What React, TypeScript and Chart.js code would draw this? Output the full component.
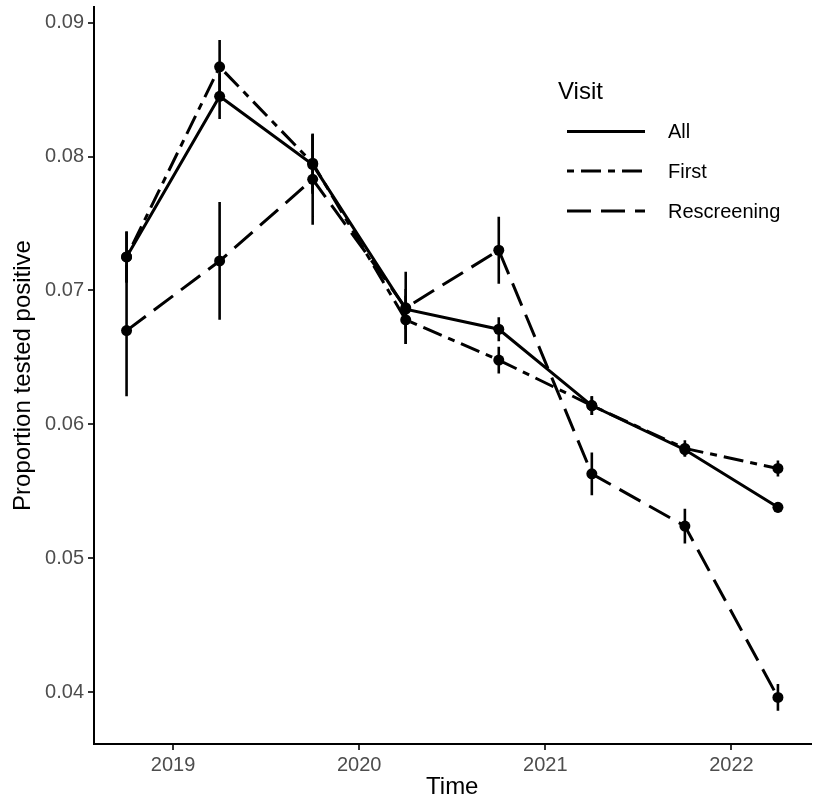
import React, { useEffect, useRef } from "react";
import { Chart, registerables } from "chart.js";

Chart.register(...registerables);

// ---- Data ----
const timePoints = [2018.75, 2019.25, 2019.75, 2020.25, 2020.75, 2021.25, 2021.75, 2022.25];

const allValues = [0.0725, 0.0845, 0.0794, 0.0686, 0.0671, 0.0614, 0.0581, 0.0538];
const allErrors = [0.0019, 0.0017, 0.0022, 0.0015, 0.0009, 0.0007, 0.0005, 0.0004];

const firstValues = [0.0725, 0.0867, 0.0795, 0.0678, 0.0648, 0.0614, 0.0582, 0.0567];
const firstErrors = [0.0019, 0.002, 0.0022, 0.0018, 0.001, 0.0007, 0.0006, 0.0006];

const rescreeningValues = [0.067, 0.0722, 0.0783, 0.0687, 0.073, 0.0563, 0.0524, 0.0396];
const rescreeningErrors = [0.0049, 0.0044, 0.0034, 0.0027, 0.0025, 0.0016, 0.0013, 0.001];

const seriesNames = ["All", "First", "Rescreening"];
const xTickValues = [2019, 2020, 2021, 2022];
const yTickValues = [0.04, 0.05, 0.06, 0.07, 0.08, 0.09];

const legendTitle = "Visit";
const xTitle = "Time";
const yTitle = "Proportion tested positive";

// ---- Styling ----
const FONT = "'Liberation Sans', Arial, Helvetica, sans-serif";
const dashes: number[][] = [[], [7, 7, 20, 7], [24, 10]];

function pointsOf(values: number[]) {
  return timePoints.map((t, i) => ({ x: t, y: values[i] }));
}

function errorBarsOf(values: number[], errors: number[]) {
  const out: { x: number; y: number | null }[] = [];
  timePoints.forEach((t, i) => {
    out.push({ x: t, y: values[i] - errors[i] });
    out.push({ x: t, y: values[i] + errors[i] });
    out.push({ x: t, y: null });
  });
  return out;
}

const legendPlugin = {
  id: "visitLegend",
  afterDraw(chart: any) {
    const ctx = chart.ctx as CanvasRenderingContext2D;
    ctx.save();
    ctx.fillStyle = "#000";
    ctx.font = `24px ${FONT}`;
    ctx.textAlign = "left";
    ctx.textBaseline = "alphabetic";
    ctx.fillText(legendTitle, 558, 99);
    const rowY = [131.5, 171, 211];
    seriesNames.forEach((name, i) => {
      const y = rowY[i];
      ctx.beginPath();
      ctx.setLineDash(dashes[i]);
      ctx.lineWidth = 3;
      ctx.lineCap = "butt";
      ctx.strokeStyle = "#000";
      ctx.moveTo(567, y);
      ctx.lineTo(645, y);
      ctx.stroke();
      ctx.setLineDash([]);
      ctx.font = `20px ${FONT}`;
      ctx.textBaseline = "middle";
      ctx.fillStyle = "#000";
      ctx.fillText(name, 668, y + 1);
    });
    ctx.restore();
  },
};

export default function App() {
  const canvasRef = useRef<HTMLCanvasElement | null>(null);

  useEffect(() => {
    const canvas = canvasRef.current;
    if (!canvas) return;
    Chart.defaults.font.family = FONT;

    const seriesValues = [allValues, firstValues, rescreeningValues];
    const seriesErrors = [allErrors, firstErrors, rescreeningErrors];

    const lineSets = seriesNames.map((name, i) => ({
      label: name,
      data: pointsOf(seriesValues[i]),
      borderColor: "#000",
      backgroundColor: "#000",
      borderWidth: 3,
      borderDash: dashes[i],
      borderCapStyle: "butt" as const,
      pointRadius: 5.5,
      pointBorderWidth: 0,
      pointBackgroundColor: "#000",
      pointHoverRadius: 5.5,
      tension: 0,
      fill: false,
    }));

    const errorSets = seriesNames.map((name, i) => ({
      label: name + " error",
      data: errorBarsOf(seriesValues[i], seriesErrors[i]),
      borderColor: "#000",
      borderWidth: 2.6,
      pointRadius: 0,
      pointHoverRadius: 0,
      spanGaps: false,
      tension: 0,
      fill: false,
    }));

    const chart = new Chart(canvas, {
      type: "line",
      data: { datasets: [...lineSets, ...errorSets] as any },
      options: {
        responsive: false,
        animation: false,
        devicePixelRatio: 1,
        events: [],
        layout: { padding: { top: 7, right: 3, left: 0, bottom: 0 } },
        plugins: {
          legend: { display: false },
          tooltip: { enabled: false },
        },
        scales: {
          x: {
            type: "linear",
            min: 2018.575,
            max: 2022.425,
            afterBuildTicks: (scale: any) => {
              scale.ticks = xTickValues.map((v) => ({ value: v }));
            },
            afterFit: (scale: any) => {
              scale.height = 59;
              scale.paddingLeft = 0;
              scale.paddingRight = 0;
            },
            grid: {
              drawOnChartArea: false,
              drawTicks: true,
              tickLength: 6,
              lineWidth: 2,
              color: "#333",
            },
            border: { display: true, color: "#000", width: 2 },
            ticks: {
              font: { family: FONT, size: 20 },
              color: "#4d4d4d",
              padding: 3,
              maxRotation: 0,
              autoSkip: false,
              callback: (v: any) => String(Math.round(Number(v))),
            },
            title: {
              display: true,
              text: xTitle,
              color: "#000",
              font: { family: FONT, size: 24 },
              padding: { top: 0, bottom: 1 },
            },
          },
          y: {
            type: "linear",
            min: 0.03612,
            max: 0.09117,
            afterBuildTicks: (scale: any) => {
              scale.ticks = yTickValues.map((v) => ({ value: v }));
            },
            afterFit: (scale: any) => {
              scale.width = 94;
              scale.paddingTop = 0;
              scale.paddingBottom = 0;
            },
            grid: {
              drawOnChartArea: false,
              drawTicks: true,
              tickLength: 6,
              lineWidth: 2,
              color: "#333",
            },
            border: { display: true, color: "#000", width: 2 },
            ticks: {
              font: { family: FONT, size: 20 },
              color: "#4d4d4d",
              padding: 4,
              autoSkip: false,
              callback: (v: any) => Number(v).toFixed(2),
            },
            title: {
              display: true,
              text: yTitle,
              color: "#000",
              font: { family: FONT, size: 24 },
              padding: { top: 9, bottom: 0 },
            },
          },
        },
      },
      plugins: [legendPlugin],
    });

    return () => {
      chart.destroy();
    };
  }, []);

  return (
    <div style={{ position: "absolute", left: 0, top: 0, width: 816, height: 803, background: "#fff" }}>
      <canvas ref={canvasRef} width={816} height={803} style={{ display: "block" }} />
    </div>
  );
}
